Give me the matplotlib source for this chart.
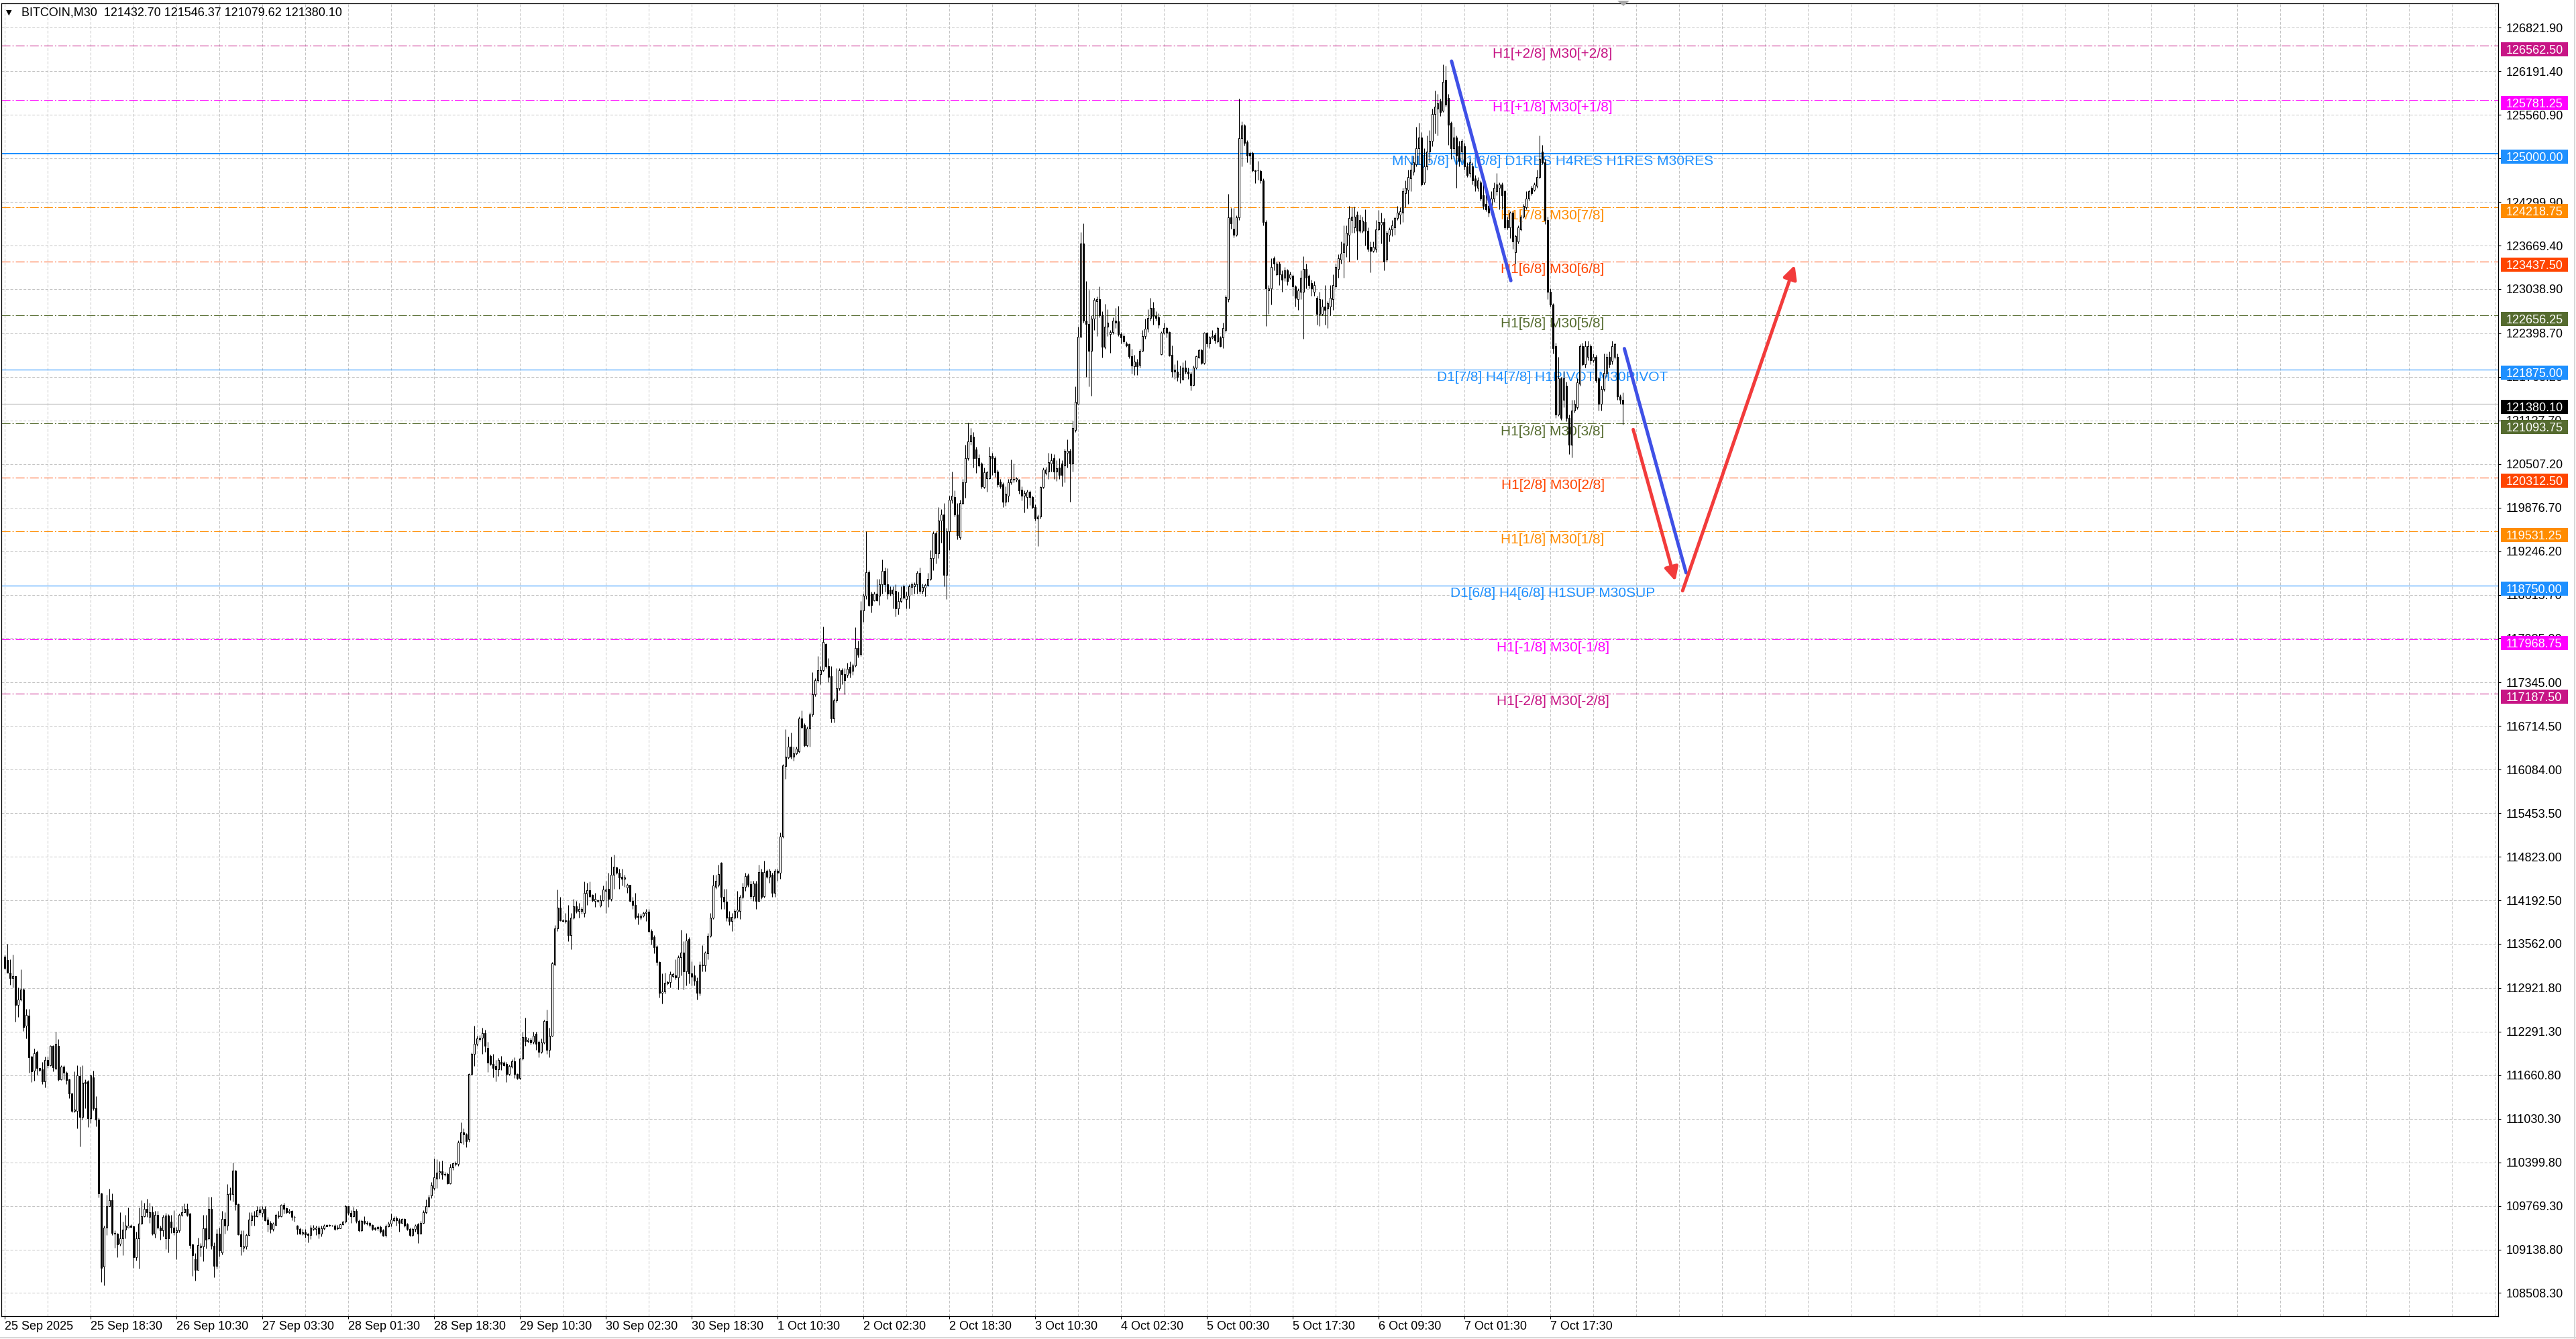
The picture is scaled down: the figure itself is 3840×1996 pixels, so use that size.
import numpy as np
import matplotlib
matplotlib.use('Agg')
import matplotlib.pyplot as plt
from matplotlib.patches import Rectangle, Polygon
from matplotlib.lines import Line2D
from matplotlib.transforms import blended_transform_factory

plt.rcParams['font.family'] = ['Liberation Sans', 'DejaVu Sans']
plt.rcParams['lines.scale_dashes'] = False

# ── BITCOIN M30 candles (bar index 0 = 25 Sep 2025) ──
OPEN = [
    113382, 113330, 113140, 113070, 113094, 112682, 112758, 112904, 112380, 112526,
    111927, 111725, 112003, 111761, 111744, 111570, 111882, 111806, 112090, 111754,
    112090, 111598, 111789, 111695, 111598, 111401, 111141, 111148, 111650, 111054,
    111563, 111570, 111037, 111626, 111182, 111016, 109953, 108889, 109450, 109769,
    109856, 109381, 109371, 109225, 109302, 109423, 109450, 109485, 109475, 109024,
    109302, 109509, 109624, 109727, 109606, 109675, 109371, 109641, 109450, 109416,
    109302, 109630, 109537, 109450, 109388, 109416, 109641, 109675, 109727, 109658,
    109208, 109000, 108844, 109174, 109181, 109440, 109295, 109727, 109191, 108903,
    109364, 109097, 109578, 109485, 109942, 109942, 110282, 109797, 109357, 109163,
    109184, 109346, 109565, 109630, 109624, 109720, 109668, 109727, 109572, 109520,
    109433, 109495, 109624, 109624, 109780, 109734, 109675, 109693, 109613, 109485,
    109433, 109364, 109388, 109364, 109346, 109433, 109433, 109457, 109364, 109444,
    109478, 109485, 109485, 109485, 109457, 109444, 109502, 109537, 109762, 109665,
    109624, 109700, 109555, 109416, 109555, 109510, 109520, 109495, 109457, 109444,
    109468, 109416, 109346, 109478, 109513, 109560, 109595, 109560, 109527, 109582,
    109502, 109433, 109346, 109433, 109502, 109371, 109520, 109675, 109762, 109918,
    110023, 110168, 110255, 110267, 110226, 110232, 110098, 110331, 110389, 110372,
    110692, 110837, 110808, 110740, 111680, 111971, 112117, 112180, 112204, 112274,
    112058, 111942, 111826, 111797, 111750, 111855, 111843, 111826, 111680, 111785,
    111867, 111680, 111622, 111901, 112215, 112157, 112175, 112146, 112262, 112146,
    112000, 112134, 112448, 112029, 112233, 113262, 113786, 114082, 113902, 113900,
    113902, 113687, 113937, 114105, 114036, 114040, 114007, 114286, 114338, 114269,
    114181, 114193, 114111, 114193, 114327, 114356, 114210, 114559, 114664, 114588,
    114530, 114501, 114373, 114414, 114181, 114123, 113972, 113937, 113972, 114007,
    114024, 113745, 113658, 113524, 113297, 112855, 112873, 112990, 113006, 113100,
    113105, 113076, 113367, 113437, 113163, 113629, 113134, 113105, 113030, 112855,
    113250, 113250, 113425, 113675, 113937, 114385, 114414, 114734, 114239, 114170,
    113949, 113890, 113937, 114024, 114036, 114239, 114385, 114548, 114425, 114251,
    114437, 114181, 114600, 114251, 114617, 114530, 114559, 114298, 114617, 114588,
    115112, 116130, 116263, 116420, 116275, 116322, 116345, 116828, 116723, 116438,
    116682, 116886, 117177, 117380, 117467, 117525, 117904, 117584, 117438, 116828,
    117089, 117264, 117525, 117467, 117459, 117568, 117513, 117595, 117840, 117754,
    118385, 118603, 118941, 118630, 118537, 118630, 118603, 118766, 118957, 118766,
    118684, 118630, 118668, 118412, 118521, 118739, 118548, 118603, 118723, 118739,
    118766, 118930, 118668, 118717, 118755, 118848, 119148, 119502, 119213, 119693,
    119774, 118902, 119529, 119992, 120030, 119774, 119448, 119938, 120238, 120592,
    120837, 120902, 120717, 120592, 120510, 120172, 120303, 120303, 120619, 120592,
    120401, 120248, 120210, 119965, 120047, 120238, 120281, 120281, 120281, 120140,
    120047, 120030, 120102, 120030, 119883, 119720, 119747, 120172, 120374, 120401,
    120510, 120592, 120401, 120456, 120510, 120483, 120674, 120701, 120510, 121000,
    121382, 122352, 123698, 122581, 122537, 122145, 122608, 122864, 122897, 122662,
    122199, 122499, 122390, 122417, 122581, 122570, 122390, 122363, 122254, 122238,
    122063, 121921, 121981, 121937, 122145, 122363, 122461, 122624, 122771, 122646,
    122635, 122101, 122406, 122472, 122417, 122090, 121873, 121845, 121807, 121736,
    121900, 121845, 121818, 121654, 121900, 122052, 122156, 121970, 122406, 122254,
    122336, 122374, 122281, 122336, 122336, 122444, 122897, 124079, 123915, 123823,
    124079, 125223, 125403, 125169, 125005, 125005, 124760, 124755, 124749, 124610,
    124011, 123021, 123047, 123490, 123256, 123412, 123256, 123204, 123308, 123204,
    123230, 123073, 122891, 122995, 122995, 123334, 123230, 123125, 122995, 122917,
    122683, 122683, 122787, 122761, 122787, 122891, 123073, 123334, 123464, 123568,
    123672, 123829, 124037, 123933, 124115, 124037, 123881, 124011, 123881, 123646,
    123594, 123620, 123907, 123975, 124011, 123464, 123829, 123907, 123933, 124063,
    124115, 124141, 124427, 124480, 124636, 124740, 124844, 125079, 125235, 124584,
    124818, 125027, 125183, 125573, 125651, 125756, 125625, 126068, 125808, 125443,
    125079, 125235, 125105, 125027, 125105, 124818, 124714, 124818, 124636, 124506,
    124584, 124401, 124271, 124245, 124141, 124349, 124453, 124506, 124558, 124453,
    124037, 123933, 124141, 123568, 123725, 123907, 124089, 124219, 124349, 124506,
    124480, 124532, 124662, 125027, 124870, 124037, 122995, 122813, 122214, 121225,
    121745, 121433, 121641, 121173, 120782, 121277, 121329, 121667, 122214, 121954,
    122058, 122214, 122006, 122058, 121745, 121381, 121589, 121823, 122058, 121995,
    122058, 122058, 121485, 121432.70,
]
HIGH = [
    113406, 113562, 113337, 113406, 113100, 112932, 113191, 112920, 112620, 112620,
    111940, 112048, 112014, 111770, 111854, 111927, 111927, 112100, 112100, 112291,
    112187, 111800, 111800, 111719, 111610, 111410, 111719, 111806, 111789, 111806,
    111598, 111590, 111667, 111726, 111356, 111044, 109960, 109485, 109935, 110022,
    109953, 109416, 109380, 109682, 109544, 109641, 109745, 109500, 109485, 109399,
    109745, 109849, 109814, 109873, 109814, 109762, 109693, 109693, 109485, 109641,
    109665, 109650, 109641, 109710, 109468, 109658, 109762, 109804, 109804, 109670,
    109220, 109087, 109312, 109235, 109641, 109641, 109901, 109901, 109243, 109433,
    109450, 109693, 109675, 110081, 110040, 110393, 110290, 109800, 109416, 109416,
    109364, 109675, 109675, 109693, 109769, 109762, 109762, 109762, 109606, 109555,
    109535, 109658, 109693, 109797, 109814, 109745, 109730, 109710, 109625, 109490,
    109450, 109433, 109433, 109381, 109490, 109490, 109485, 109485, 109485, 109502,
    109502, 109502, 109495, 109502, 109490, 109509, 109555, 109780, 109769, 109710,
    109755, 109727, 109572, 109572, 109624, 109555, 109537, 109502, 109468, 109485,
    109485, 109433, 109502, 109537, 109658, 109620, 109624, 109595, 109595, 109595,
    109520, 109450, 109450, 109502, 109520, 109555, 109710, 109866, 109935, 110110,
    110459, 110447, 110413, 110430, 110260, 110255, 110372, 110401, 110420, 110721,
    110983, 110895, 110820, 111690, 111990, 112378, 112230, 112240, 112349, 112320,
    112146, 111960, 111971, 111884, 111913, 111942, 111860, 111855, 111810, 111890,
    111925, 111690, 111915, 112291, 112495, 112200, 112200, 112291, 112291, 112160,
    112192, 112466, 112611, 112349, 113300, 113832, 114344, 114239, 113920, 114007,
    114123, 114007, 114210, 114181, 114152, 114100, 114460, 114443, 114460, 114280,
    114298, 114200, 114269, 114402, 114472, 114588, 114821, 114850, 114680, 114647,
    114647, 114559, 114440, 114420, 114240, 114298, 114007, 114000, 114030, 114065,
    114065, 113774, 113687, 113541, 113309, 113134, 113146, 113030, 113163, 113140,
    113338, 113396, 113763, 113600, 113716, 113658, 113309, 113251, 113076, 113309,
    113541, 113454, 113716, 114007, 114559, 114559, 114705, 114751, 114356, 114356,
    114036, 114007, 114065, 114327, 114268, 114443, 114588, 114577, 114472, 114472,
    114472, 114705, 114647, 114763, 114640, 114647, 114588, 114647, 114647, 115170,
    116160, 116671, 116566, 116624, 116420, 116420, 116857, 116944, 116752, 116711,
    116915, 117496, 117409, 117729, 117584, 118150, 117915, 117700, 117584, 117118,
    117554, 117554, 117554, 117554, 117633, 117650, 117622, 118140, 117949, 118521,
    118630, 119529, 118973, 118657, 118657, 118848, 118848, 119121, 119011, 118995,
    118740, 118739, 118766, 118657, 118739, 118766, 118657, 118766, 118793, 118793,
    118957, 119011, 118777, 118777, 118930, 119257, 119529, 119529, 119883, 119856,
    119938, 119584, 120047, 120401, 120129, 119938, 119992, 120292, 120782, 121109,
    121028, 120973, 120755, 120647, 120537, 120456, 120412, 120755, 120674, 120619,
    120429, 120292, 120238, 120183, 120292, 120575, 120510, 120320, 120292, 120183,
    120129, 120140, 120129, 120047, 119922, 119774, 120183, 120456, 120466, 120674,
    120663, 120647, 120565, 120592, 120565, 120728, 120864, 120728, 121137, 121627,
    122499, 123861, 123986, 123153, 123027, 122662, 122908, 122935, 123082, 122717,
    122826, 122744, 122445, 122635, 122771, 122799, 122417, 122390, 122281, 122254,
    122172, 122090, 122025, 122172, 122444, 122608, 122744, 122908, 122853, 122717,
    122690, 122428, 122553, 122499, 122428, 122227, 121954, 122009, 121927, 121981,
    122009, 121900, 121845, 121927, 122079, 122172, 122172, 122417, 122417, 122363,
    122444, 122406, 122499, 122363, 122553, 122951, 124417, 124215, 124215, 124106,
    125796, 125469, 125425, 125196, 125033, 125033, 124771, 124896, 124771, 124636,
    124037, 123099, 123490, 123516, 123440, 123438, 123308, 123360, 123334, 123290,
    123256, 123099, 123047, 123308, 123516, 123412, 123256, 123178, 123152, 122943,
    122995, 122891, 123099, 122865, 123099, 123256, 123412, 123542, 123725, 123959,
    123959, 124245, 124219, 124235, 124167, 124115, 124089, 124193, 123933, 123725,
    123725, 124037, 124183, 124141, 124063, 123881, 123933, 124037, 124089, 124245,
    124219, 124506, 124610, 124766, 124870, 124974, 125391, 125443, 125313, 125079,
    125261, 125339, 125651, 125912, 125860, 125800, 126287, 126276, 125860, 125469,
    125391, 125261, 125183, 125209, 125157, 124870, 124922, 124870, 124688, 124662,
    124610, 124662, 124453, 124349, 124453, 124584, 124714, 124584, 124584, 124480,
    124089, 124167, 124167, 123829, 123959, 124115, 124271, 124453, 124480, 124532,
    124584, 124766, 125261, 125131, 124922, 124089, 123047, 122839, 122266, 122058,
    121771, 121850, 121700, 121225, 121433, 121433, 121745, 122240, 122266, 122292,
    122292, 122240, 122110, 122084, 121771, 121641, 122110, 122110, 122136, 122292,
    122266, 122110, 121511, 121546.37,
]
LOW = [
    113191, 113140, 112966, 112932, 112440, 112506, 112740, 112301, 112197, 111695,
    111560, 111577, 111667, 111720, 111529, 111484, 111761, 111790, 111716, 111744,
    111581, 111590, 111605, 111529, 111328, 111120, 111120, 110888, 110628, 111016,
    111182, 110912, 110968, 111155, 110923, 109890, 108671, 108619, 109346, 109762,
    109346, 109163, 109024, 109191, 109052, 109295, 109450, 109450, 108868, 108983,
    108862, 109502, 109606, 109606, 109520, 109346, 109312, 109433, 109277, 109329,
    109146, 109094, 109381, 109346, 109000, 109388, 109624, 109675, 109624, 109156,
    108758, 108688, 108844, 109035, 108966, 109156, 109277, 109139, 108740, 108862,
    109035, 109069, 109364, 109416, 109849, 109831, 109710, 109346, 109052, 109100,
    109139, 109340, 109485, 109485, 109606, 109641, 109606, 109555, 109399, 109381,
    109410, 109485, 109590, 109606, 109658, 109660, 109658, 109560, 109540, 109353,
    109353, 109346, 109312, 109243, 109285, 109420, 109346, 109295, 109330, 109430,
    109470, 109475, 109475, 109420, 109430, 109444, 109495, 109520, 109641, 109520,
    109606, 109520, 109399, 109399, 109502, 109495, 109468, 109420, 109420, 109420,
    109381, 109330, 109320, 109468, 109478, 109537, 109485, 109399, 109520, 109468,
    109420, 109330, 109330, 109399, 109235, 109364, 109510, 109658, 109745, 109877,
    109994, 110023, 110168, 110157, 110200, 110081, 110081, 110285, 110343, 110343,
    110680, 110663, 110622, 110700, 111670, 111797, 112090, 112150, 111971, 112000,
    111709, 111800, 111634, 111576, 111651, 111738, 111790, 111564, 111660, 111770,
    111622, 111600, 111600, 111884, 112088, 112130, 112110, 112117, 112029, 111925,
    111983, 112117, 111971, 111925, 112220, 113250, 113745, 113890, 113880, 113861,
    113600, 113483, 113920, 114007, 113937, 114000, 113950, 114123, 114228, 114170,
    114094, 114160, 114094, 114181, 114007, 114094, 114181, 114356, 114570, 114356,
    114402, 114385, 114300, 114170, 114065, 113920, 113844, 113910, 113950, 113890,
    113728, 113553, 113425, 113251, 112785, 112698, 112844, 112970, 112931, 113080,
    113047, 112902, 113105, 112902, 112960, 112989, 112960, 112960, 112756, 112814,
    113163, 113163, 113338, 113658, 113920, 114356, 114385, 114065, 114065, 113890,
    113832, 113745, 113920, 113937, 113920, 114210, 114327, 114385, 114210, 114181,
    114065, 114170, 114210, 114228, 114510, 114443, 114239, 114239, 114472, 114501,
    115100, 115955, 116246, 116246, 116217, 116300, 116333, 116682, 116420, 116420,
    116420, 116857, 117148, 117351, 117322, 117500, 117555, 117351, 116769, 116769,
    117060, 117235, 117322, 117177, 117415, 117415, 117459, 117568, 117704, 117731,
    118222, 118548, 118450, 118358, 118521, 118521, 118467, 118630, 118657, 118548,
    118603, 118412, 118303, 118330, 118505, 118548, 118412, 118412, 118614, 118630,
    118630, 118630, 118630, 118593, 118739, 118821, 118968, 119066, 119148, 119366,
    118739, 118548, 119257, 119938, 119747, 119420, 119420, 119922, 120020, 120565,
    120782, 120456, 120374, 120466, 120156, 120156, 120102, 120292, 120347, 120319,
    120172, 120156, 119883, 119900, 119965, 120211, 120238, 120248, 120074, 119976,
    119802, 119867, 119911, 119867, 119693, 119322, 119720, 120156, 120347, 120292,
    120401, 120292, 120265, 120292, 120183, 120238, 120456, 119965, 120401, 120973,
    121382, 122336, 122553, 121763, 121627, 121491, 122444, 122363, 122635, 122047,
    122172, 122363, 122117, 122390, 122472, 122363, 122254, 122254, 122199, 122036,
    121818, 121791, 121791, 121900, 122134, 122319, 122417, 122581, 122526, 122581,
    122472, 122090, 122390, 122336, 122063, 121763, 121736, 121709, 121681, 121720,
    121818, 121736, 121572, 121643, 121884, 122036, 121954, 121954, 122199, 122188,
    122319, 122254, 122265, 122199, 122188, 122417, 122853, 123915, 123790, 123807,
    124041, 124815, 125114, 124869, 124842, 124733, 124570, 124624, 124570, 123959,
    122501, 122683, 122813, 123308, 123230, 123100, 122995, 123152, 123100, 123180,
    122943, 122787, 122735, 122891, 122318, 123047, 123047, 122943, 122943, 122527,
    122501, 122657, 122527, 122475, 122657, 122735, 123047, 123204, 123412, 123204,
    123500, 123438, 123855, 123855, 123464, 123855, 123855, 123672, 123579, 123282,
    123568, 123568, 123881, 123698, 123308, 123438, 123725, 123803, 123829, 124037,
    123985, 124011, 124219, 124271, 124453, 124688, 124818, 124844, 124532, 124558,
    124766, 124870, 125105, 125287, 125261, 125540, 125599, 125677, 125131, 124922,
    125001, 124506, 124818, 124870, 124766, 124662, 124662, 124558, 124453, 124453,
    124323, 124193, 124167, 124089, 124115, 124297, 124401, 124193, 124193, 123907,
    123907, 123777, 123620, 123412, 123700, 123881, 124063, 124193, 124323, 124401,
    124453, 124506, 124636, 124844, 123985, 122891, 122787, 122110, 121173, 121199,
    121147, 121329, 121121, 120652, 120600, 121250, 121303, 121641, 121928, 121902,
    122006, 121954, 121980, 121693, 121277, 121277, 121563, 121771, 121902, 121954,
    122032, 121433, 121381, 121079.62,
]
CLOSE = [
    113209, 113140, 113070, 113094, 112682, 112758, 112904, 112360, 112533, 111917,
    111719, 111979, 111761, 111737, 111570, 111882, 111806, 112090, 111771, 112118,
    111598, 111789, 111695, 111591, 111401, 111148, 111165, 111660, 111054, 111553,
    111546, 111037, 111657, 111182, 111016, 109953, 108868, 109450, 109769, 109856,
    109381, 109364, 109215, 109302, 109423, 109485, 109485, 109468, 109024, 109302,
    109509, 109624, 109727, 109675, 109675, 109371, 109641, 109450, 109416, 109606,
    109630, 109302, 109450, 109388, 109416, 109641, 109675, 109727, 109641, 109198,
    109052, 108844, 109198, 109191, 109440, 109277, 109727, 109191, 108903, 109364,
    109121, 109578, 109485, 109942, 109953, 110282, 109797, 109357, 109184, 109184,
    109346, 109572, 109630, 109624, 109710, 109675, 109727, 109560, 109502, 109433,
    109509, 109641, 109630, 109780, 109727, 109675, 109700, 109613, 109605, 109433,
    109364, 109388, 109357, 109346, 109457, 109457, 109457, 109364, 109444, 109485,
    109492, 109492, 109485, 109433, 109444, 109502, 109537, 109762, 109665, 109624,
    109700, 109555, 109416, 109555, 109520, 109520, 109495, 109433, 109433, 109468,
    109399, 109340, 109478, 109513, 109572, 109595, 109560, 109527, 109582, 109485,
    109433, 109346, 109433, 109485, 109364, 109527, 109675, 109762, 109890, 110069,
    110180, 110255, 110267, 110226, 110232, 110098, 110331, 110389, 110372, 110692,
    110837, 110808, 110703, 111680, 111971, 112117, 112192, 112204, 112274, 112088,
    111843, 111826, 111768, 111750, 111884, 111826, 111808, 111680, 111797, 111867,
    111680, 111622, 111901, 112215, 112157, 112175, 112134, 112233, 112117, 112000,
    112134, 112448, 112029, 112233, 113280, 113786, 114082, 113902, 113895, 113896,
    113687, 113937, 114105, 114036, 114065, 114065, 114298, 114338, 114251, 114193,
    114210, 114181, 114193, 114344, 114344, 114210, 114559, 114676, 114588, 114519,
    114501, 114519, 114414, 114181, 114123, 113949, 113949, 113972, 114007, 114024,
    113745, 113629, 113512, 113297, 112855, 112873, 113000, 113006, 113123, 113123,
    113076, 113367, 113437, 113163, 113611, 113134, 113088, 113030, 112855, 113262,
    113262, 113437, 113675, 113937, 114402, 114472, 114571, 114239, 114170, 113937,
    113890, 113949, 114036, 114053, 114239, 114385, 114542, 114414, 114251, 114437,
    114181, 114600, 114239, 114600, 114530, 114617, 114298, 114617, 114588, 115112,
    116147, 116275, 116420, 116275, 116322, 116391, 116828, 116694, 116438, 116682,
    116886, 117177, 117380, 117525, 117525, 117933, 117584, 117427, 116828, 117089,
    117264, 117525, 117467, 117380, 117541, 117486, 117595, 117840, 117742, 118385,
    118603, 118941, 118467, 118467, 118630, 118537, 118766, 118957, 118766, 118630,
    118630, 118684, 118412, 118521, 118575, 118575, 118603, 118739, 118766, 118766,
    118930, 118668, 118723, 118755, 118848, 119148, 119502, 119213, 119693, 119774,
    118902, 119529, 119992, 120047, 119774, 119475, 119938, 120238, 120592, 120837,
    120919, 120592, 120592, 120483, 120183, 120390, 120390, 120619, 120592, 120390,
    120211, 120183, 119965, 120074, 120238, 120292, 120292, 120303, 120129, 120047,
    120085, 120102, 120030, 119883, 119720, 119747, 120172, 120428, 120428, 120537,
    120565, 120401, 120445, 120347, 120347, 120701, 120701, 120510, 121028, 121409,
    122352, 123698, 122581, 122537, 122145, 122608, 122880, 122897, 122662, 122199,
    122499, 122553, 122417, 122581, 122553, 122390, 122336, 122281, 122227, 122063,
    121927, 121992, 121921, 122145, 122363, 122461, 122624, 122771, 122646, 122624,
    122526, 122406, 122472, 122406, 122079, 121845, 121845, 121763, 121805, 121900,
    121845, 121818, 121654, 121900, 122063, 122156, 121970, 122406, 122254, 122336,
    122363, 122297, 122472, 122210, 122472, 122918, 124079, 123986, 123823, 124079,
    125223, 125403, 125153, 124967, 124967, 124760, 124749, 124760, 124608, 124011,
    123047, 123047, 123360, 123412, 123412, 123256, 123178, 123308, 123152, 123256,
    123073, 122917, 123021, 123204, 123334, 123204, 123100, 123047, 123100, 122683,
    122891, 122787, 122735, 122839, 122917, 123100, 123360, 123490, 123558, 123698,
    123855, 124063, 124089, 124089, 123881, 123881, 124027, 123881, 123620, 123594,
    123646, 123907, 124011, 124011, 123438, 123855, 123907, 123959, 124063, 124141,
    124167, 124453, 124506, 124662, 124766, 124870, 125079, 125235, 124558, 124818,
    125027, 125183, 125573, 125677, 125729, 125599, 126042, 125704, 125417, 125079,
    125235, 124974, 124896, 125183, 124818, 124688, 124870, 124610, 124532, 124610,
    124349, 124245, 124193, 124141, 124349, 124506, 124558, 124558, 124401, 123933,
    123933, 124141, 123725, 123803, 123933, 124089, 124245, 124349, 124453, 124427,
    124558, 124662, 124922, 124870, 124037, 122995, 122813, 122188, 121225, 121745,
    121173, 121745, 121173, 120782, 121277, 121381, 121693, 122214, 121954, 122214,
    122214, 122006, 122058, 121719, 121381, 121589, 121823, 122058, 121954, 122214,
    122240, 121485, 121433, 121380.10,
]
assert len(OPEN) == len(HIGH) == len(LOW) == len(CLOSE), \
    (len(OPEN), len(HIGH), len(LOW), len(CLOSE))

HEADER = 'BITCOIN,M30  121432.70 121546.37 121079.62 121380.10'

# time axis: a label every 32 bars
DATE_TICK_BARS = list(range(0, 577, 32))
DATE_LABELS = ['25 Sep 2025', '25 Sep 18:30', '26 Sep 10:30', '27 Sep 03:30',
               '28 Sep 01:30', '28 Sep 18:30', '29 Sep 10:30', '30 Sep 02:30',
               '30 Sep 18:30', '1 Oct 10:30', '2 Oct 02:30', '2 Oct 18:30',
               '3 Oct 10:30', '4 Oct 02:30', '5 Oct 00:30', '5 Oct 17:30',
               '6 Oct 09:30', '7 Oct 01:30', '7 Oct 17:30']

PRICE_TICKS = [126821.90, 126191.40, 125560.90, 124930.40, 124299.90, 123669.40,
               123038.90, 122398.70, 121768.20, 121137.70, 120507.20, 119876.70,
               119246.20, 118615.70, 117985.20, 117345.00, 116714.50, 116084.00,
               115453.50, 114823.00, 114192.50, 113562.00, 112921.80, 112291.30,
               111660.80, 111030.30, 110399.80, 109769.30, 109138.80, 108508.30]

# Murrey-math style levels drawn as horizontal lines with captions
LEVELS = [126562.50, 125781.25, 125000.00, 124218.75, 123437.50, 122656.25,
          121875.00, 121093.75, 120312.50, 119531.25, 118750.00, 117968.75,
          117187.50]
LEVEL_TEXT = ['H1[+2/8] M30[+2/8]', 'H1[+1/8] M30[+1/8]',
              'MN1[5/8] W1[6/8] D1RES H4RES H1RES M30RES',
              'H1[7/8] M30[7/8]', 'H1[6/8] M30[6/8]', 'H1[5/8] M30[5/8]',
              'D1[7/8] H4[7/8] H1PIVOT M30PIVOT', 'H1[3/8] M30[3/8]',
              'H1[2/8] M30[2/8]', 'H1[1/8] M30[1/8]',
              'D1[6/8] H4[6/8] H1SUP M30SUP', 'H1[-1/8] M30[-1/8]',
              'H1[-2/8] M30[-2/8]']
LEVEL_COLORS = ['#C71585', '#FF00FF', '#1E90FF', '#FF8C00', '#FF4500', '#556B2F',
                '#1E90FF', '#556B2F', '#FF4500', '#FF8C00', '#1E90FF', '#FF00FF',
                '#C71585']
LEVEL_SOLID = [False, False, True, False, False, False, True, False, False,
               False, True, False, False]
LABEL_BAR = 577
BID = 121380.10

# hand-drawn trend lines / arrows (bar index, price)
BLUE_1 = ([539.3, 561.4], [126339, 123162])
BLUE_2 = ([603.7, 626.7], [122178, 118933])
RED_1 = ([607.0, 622.7], [121006, 118813])
RED_2 = ([625.4, 667.2], [118673, 123386])

# ── figure geometry (pixels of the 3840x1996 screenshot) ──────────────
W_PX, H_PX, DPI = 3840, 1996, 100
AX_L, AX_R, AX_T, AX_B = 2, 3724, 5, 1962
fig = plt.figure(figsize=(W_PX / DPI, H_PX / DPI), dpi=DPI)
fig.patch.set_facecolor('white')
ax = fig.add_axes([AX_L / W_PX, 1 - AX_B / H_PX,
                   (AX_R - AX_L) / W_PX, (AX_B - AX_T) / H_PX])
ax.set_xlim(-1.15, 929.35)
ax.set_ylim(108172.7, 127175.0)
px_price = (127175.0 - 108172.7) / (AX_B - AX_T)

o = np.array(OPEN, float); c = np.array(CLOSE, float)
h = np.maximum.reduce([np.array(HIGH, float), o, c])
l = np.minimum.reduce([np.array(LOW, float), o, c])
idx = np.arange(len(c))

# grid
GRID_C = '#c4c4c4'
for v in PRICE_TICKS:
    ax.axhline(v, color=GRID_C, lw=0.72, dashes=(2.9, 1.8), zorder=0.5)
for b in range(0, 930, 16):
    ax.axvline(b, color=GRID_C, lw=0.72, dashes=(2.9, 1.8), zorder=0.5)

# level lines and captions
for lv, txt, col, solid in zip(LEVELS, LEVEL_TEXT, LEVEL_COLORS, LEVEL_SOLID):
    if solid:
        ax.axhline(lv, color=col, lw=1.45 if lv == 125000.0 else 0.8, zorder=1)
    else:
        ax.axhline(lv, color=col, lw=0.75, dashes=(9.4, 2.2, 1.4, 2.2), zorder=1)
    ax.annotate(txt, xy=(LABEL_BAR, lv), xytext=(0, -8.6),
                textcoords='offset points', ha='center', va='center',
                color=col, fontsize=15, zorder=2)
ax.axhline(BID, color='#c0c0c0', lw=0.9, zorder=1)

# candles
up = c >= o
ax.vlines(idx, l, h, color='black', lw=0.75, zorder=4)
ax.bar(idx[up], np.maximum(c - o, 1.0)[up], bottom=o[up], width=0.5,
       facecolor='white', edgecolor='black', lw=0.75, zorder=5)
ax.bar(idx[~up], np.maximum(o - c, 1.0)[~up], bottom=c[~up], width=0.5,
       facecolor='black', edgecolor='black', lw=0.75, zorder=5)

# trend lines and arrows
BLUE, RED = '#3f50e6', '#f23b3b'
for xs, ys in (BLUE_1, BLUE_2):
    ax.plot(xs, ys, color=BLUE, lw=3.6, solid_capstyle='round', zorder=7)
for xs, ys in (RED_1, RED_2):
    ax.annotate('', xy=(xs[1], ys[1]), xytext=(xs[0], ys[0]),
                arrowprops=dict(arrowstyle='-|>,head_length=0.6,head_width=0.3',
                                color=RED, lw=3.6, shrinkA=0, shrinkB=0,
                                mutation_scale=20, capstyle='round'),
                zorder=7)

# axes styling
for sp in ax.spines.values():
    sp.set_color('black'); sp.set_linewidth(0.9)
ax.yaxis.tick_right()
ax.set_yticks(PRICE_TICKS)
ax.set_yticklabels([f'{v:.2f}' for v in PRICE_TICKS])
ax.tick_params(axis='y', direction='out', length=3, width=0.8, pad=5.5,
               labelsize=13, colors='black')
ax.set_xticks(DATE_TICK_BARS)
ax.set_xticklabels(DATE_LABELS, ha='left')
ax.tick_params(axis='x', direction='out', length=3, width=0.8, pad=2,
               labelsize=13, colors='black')

# price boxes on the right scale (MT4 draws them a few pixels below the level)
trans = blended_transform_factory(ax.transAxes, ax.transData)
ax_w = AX_R - AX_L
box_h = 21 * px_price
box_shift = 5 * px_price
BOX_VALUES = LEVELS + [BID]
BOX_COLORS = LEVEL_COLORS + ['#000000']
for v, col in zip(BOX_VALUES, BOX_COLORS):
    yc = v - box_shift
    ax.add_patch(Rectangle(((3728 - AX_L) / ax_w, yc - box_h / 2), 100 / ax_w, box_h,
                           transform=trans, facecolor=col, edgecolor='none',
                           clip_on=False, zorder=10))
    ax.text((3736 - AX_L) / ax_w, yc, f'{v:.2f}', transform=trans, color='white',
            fontsize=13, va='center_baseline', ha='left', clip_on=False, zorder=11)

# header and window decorations
fig.text(32 / W_PX, 1 - 19 / H_PX, HEADER, fontsize=13, va='center', ha='left')
fig.text(9 / W_PX, 1 - 19 / H_PX, '\u25bc', fontsize=8, va='center', ha='left',
         family=['DejaVu Sans'])
fig.add_artist(Polygon([[2411 / W_PX, 1 - 1 / H_PX], [2429 / W_PX, 1 - 1 / H_PX],
                        [2420 / W_PX, 1 - 9 / H_PX]], closed=True,
                       transform=fig.transFigure, facecolor='#a8a8a8',
                       edgecolor='none'))
fig.add_artist(Line2D([3837.5 / W_PX] * 2, [0, 1], transform=fig.transFigure,
                      color='#d8d8d8', lw=1.5))
fig.add_artist(Line2D([0, 1], [1 - 1993.5 / H_PX] * 2, transform=fig.transFigure,
                      color='#d8d8d8', lw=1.5))

fig.savefig('out.png', dpi=DPI, facecolor='white')
